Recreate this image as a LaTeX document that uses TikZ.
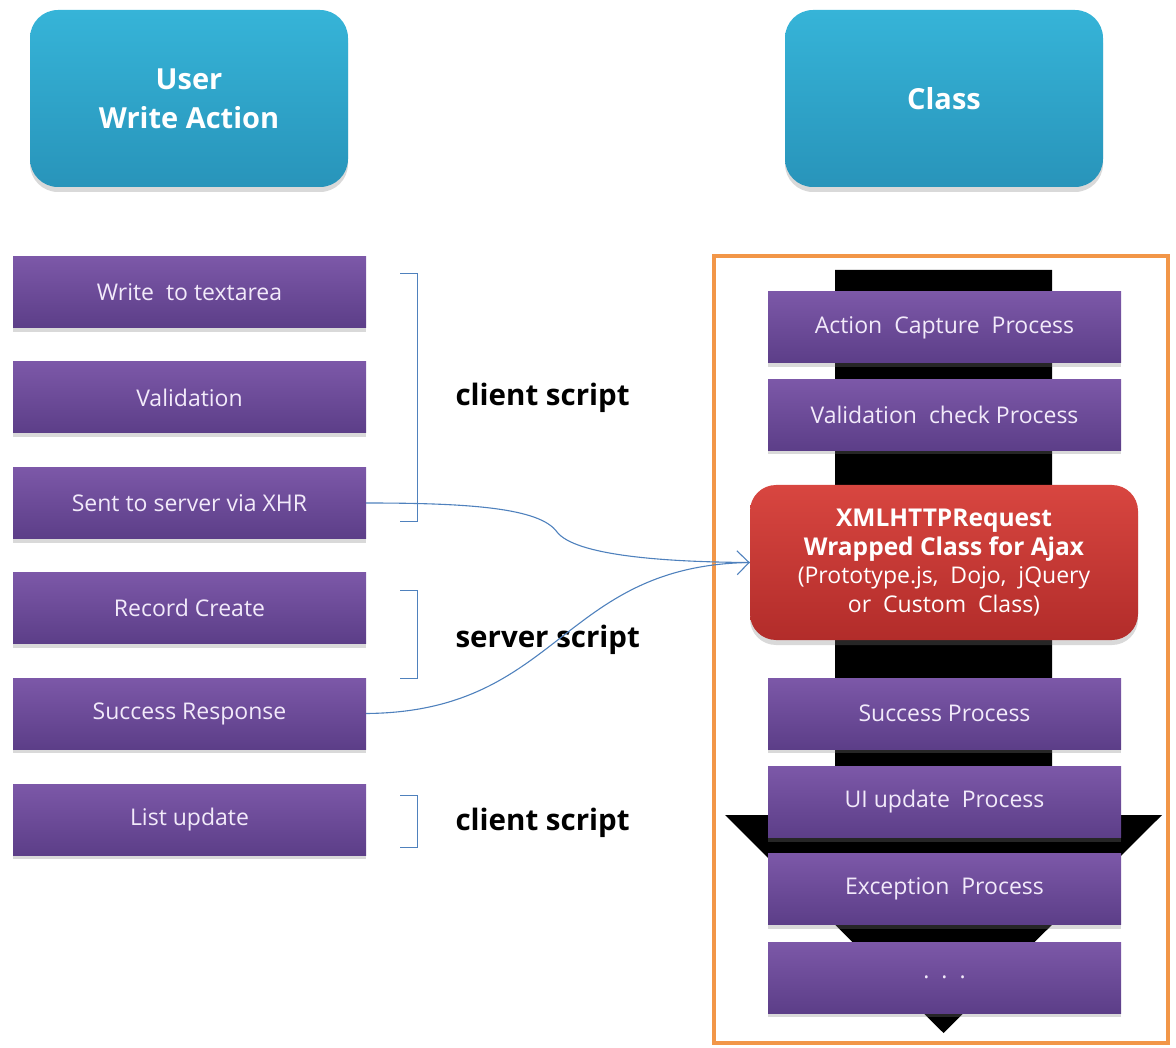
\documentclass[tikz,border=0pt]{standalone}
\usepackage{fontspec}
\setmainfont{Open Sans}
\usetikzlibrary{arrows.meta,shadows}
\definecolor{cyanT}{RGB}{54,180,216}
\definecolor{cyanB}{RGB}{40,148,186}
\definecolor{purT}{RGB}{124,88,168}
\definecolor{purB}{RGB}{92,62,136}
\definecolor{purTxt}{RGB}{242,234,250}
\definecolor{redT}{RGB}{216,70,64}
\definecolor{redB}{RGB}{178,44,42}
\definecolor{frameOr}{RGB}{242,150,72}
\definecolor{lineBl}{RGB}{79,129,189}
\begin{document}
\begin{tikzpicture}[x=1pt,y=-1pt,
  hdr/.style={rounded corners=28pt, top color=cyanT, bottom color=cyanB, draw=none,
    minimum width=318pt, minimum height=177pt, text=white, align=center,
    font=\fontsize{29}{39}\selectfont\bfseries,
    drop shadow={shadow xshift=0pt, shadow yshift=-5pt, opacity=0.3}},
  pbox/.style={top color=purT, bottom color=purB, draw=none,
    minimum width=353pt, minimum height=71pt, text=purTxt,
    font=\fontsize{23}{26}\selectfont,
    drop shadow={shadow xshift=0pt, shadow yshift=-4pt, opacity=0.3}},
  rbox/.style={rounded corners=26pt, top color=redT, bottom color=redB, draw=none,
    minimum width=388pt, minimum height=155pt, text=white, align=center,
    font=\fontsize{23}{28.5}\selectfont,
    drop shadow={shadow xshift=0pt, shadow yshift=-5pt, opacity=0.3}},
  lbl/.style={anchor=west, font=\fontsize{29.5}{32}\selectfont\bfseries, text=black},
  brk/.style={draw=lineBl, line width=0.9pt},
  conn/.style={draw=lineBl, line width=1.1pt}
]
\useasboundingbox (0,0) rectangle (1176,1048);

% headers
\node[hdr] (user) at (189,98.5) {User\\Write Action};
\node[hdr] (cls) at (944,98.5) {Class};

% orange frame
\draw[frameOr, line width=4pt] (714,256) rectangle (1168,1043);

% black block arrow
\fill[black] (835,270) -- (1052,270) -- (1052,815) -- (1162,815) -- (943.5,1033) -- (725,815) -- (835,815) -- cycle;

% left column
\node[pbox] (w1) at (189.5,292.5) {Write\ \ to textarea};
\node[pbox] (w2) at (189.5,397.5) {Validation};
\node[pbox] (w3) at (189.5,503) {Sent to server via XHR};
\node[pbox] (w4) at (189.5,608) {Record Create};
\node[pbox] (w5) at (189.5,713.5) {Success Response};
\node[pbox] (w6) at (189.5,819.5) {List update};

% brackets
\draw[brk] (400,273) -- (417,273) -- (417,521) -- (400,521);
\draw[brk] (400,590) -- (417,590) -- (417,678) -- (400,678);
\draw[brk] (400,795) -- (417,795) -- (417,847) -- (400,847);

\node[lbl] (l1) at (452,398) {client script};
\node[lbl] (l2) at (452,640) {server script};
\node[lbl] (l3) at (452,823) {client script};

% right column
\node[pbox] (c1) at (944.5,327.5) {Action\ \ Capture\ \ Process};
\node[pbox] (c2) at (944.5,415) {Validation\ \ check Process};
\node[rbox] (xhr) at (944,562.5) {{\fontsize{24.5}{28.5}\selectfont\bfseries XMLHTTPRequest}\\{\fontsize{24.5}{28.5}\selectfont\bfseries Wrapped Class for Ajax}\\(Prototype.js,\ \ Dojo,\ \ jQuery\\or\ \ Custom\ \ Class)};
\node[pbox] (c3) at (944.5,713.5) {Success Process};
\node[pbox] (c4) at (944.5,802) {UI update\ \ Process};
\node[pbox] (c5) at (944.5,889) {Exception\ \ Process};
\node[pbox] (c6) at (944.5,977.5) {.\ \ .\ \ .};

% connectors
\coordinate (kink) at (557,532);
\draw[conn] (w3.east) .. controls (470,503) and (540,508) .. (kink)
  .. controls (575,555) and (660,562) .. (xhr.west);
\draw[conn, -{Straight Barb[length=12pt,width=24pt,line width=1.1pt]}] (w5.east) .. controls (560,712) and (560,566) .. (xhr.west);
\end{tikzpicture}
\end{document}
